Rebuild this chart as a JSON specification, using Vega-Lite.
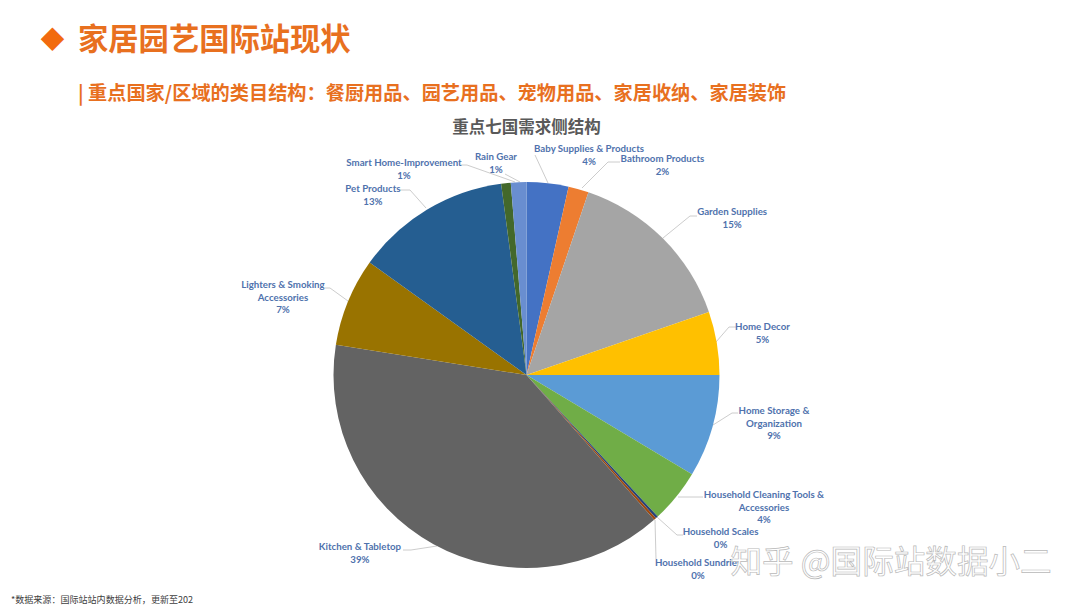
{
  "$schema": "https://vega.github.io/schema/vega-lite/v6.json",
  "width": 973,
  "height": 440,
  "autosize": {"type": "none"},
  "padding": {"left": 40, "top": 155, "right": 67, "bottom": 13},
  "background": "white",
  "view": {"stroke": null},
  "title": {
    "text": "家居园艺国际站现状",
    "subtitle": "| 重点国家/区域的类目结构：餐厨用品、园艺用品、宠物用品、家居收纳、家居装饰",
    "anchor": "start",
    "frame": "group",
    "dx": 38,
    "offset": -75,
    "font": "Noto Sans CJK SC",
    "fontSize": 30.3,
    "fontWeight": "bold",
    "color": "#E8701F",
    "subtitleFont": "Noto Sans CJK SC",
    "subtitleFontSize": 19.2,
    "subtitleFontWeight": "bold",
    "subtitleColor": "#E8701F",
    "subtitlePadding": 29
  },
  "datasets": {
    "slices": [
      {"order": 1, "name": "Baby Supplies & Products", "share": 3.5, "label": "Baby Supplies & Products\n4%"},
      {"order": 2, "name": "Bathroom Products", "share": 1.7, "label": "Bathroom Products\n2%"},
      {"order": 3, "name": "Garden Supplies", "share": 14.5, "label": "Garden Supplies\n15%"},
      {"order": 4, "name": "Home Decor", "share": 5.3, "label": "Home Decor\n5%"},
      {"order": 5, "name": "Home Storage & Organization", "share": 8.6, "label": "Home Storage &\nOrganization\n9%"},
      {"order": 6, "name": "Household Cleaning Tools & Accessories", "share": 4.5, "label": "Household Cleaning Tools &\nAccessories\n4%"},
      {"order": 7, "name": "Household Scales", "share": 0.2, "label": "Household Scales\n0%"},
      {"order": 8, "name": "Household Sundries", "share": 0.2, "label": "Household Sundries\n0%"},
      {"order": 9, "name": "Kitchen & Tabletop", "share": 39, "label": "Kitchen & Tabletop\n39%"},
      {"order": 10, "name": "Lighters & Smoking Accessories", "share": 7.4, "label": "Lighters & Smoking\nAccessories\n7%"},
      {"order": 11, "name": "Pet Products", "share": 13, "label": "Pet Products\n13%"},
      {"order": 12, "name": "Smart Home-Improvement", "share": 0.8, "label": "Smart Home-Improvement\n1%"},
      {"order": 13, "name": "Rain Gear", "share": 1.3, "label": "Rain Gear\n1%"}
    ],
    "leaders": [
      {"slice": "Baby", "node": 1}, {"slice": "Baby", "node": 2},
      {"slice": "Bathroom", "node": 3}, {"slice": "Bathroom", "node": 4}, {"slice": "Bathroom", "node": 5},
      {"slice": "Garden", "node": 6}, {"slice": "Garden", "node": 7}, {"slice": "Garden", "node": 8},
      {"slice": "Decor", "node": 9}, {"slice": "Decor", "node": 10}, {"slice": "Decor", "node": 11},
      {"slice": "Storage", "node": 12}, {"slice": "Storage", "node": 13}, {"slice": "Storage", "node": 14},
      {"slice": "Cleaning", "node": 15}, {"slice": "Cleaning", "node": 16},
      {"slice": "Scales", "node": 17}, {"slice": "Scales", "node": 18}, {"slice": "Scales", "node": 19},
      {"slice": "Sundries", "node": 20}, {"slice": "Sundries", "node": 21},
      {"slice": "Kitchen", "node": 22}, {"slice": "Kitchen", "node": 23}, {"slice": "Kitchen", "node": 24},
      {"slice": "Lighters", "node": 25}, {"slice": "Lighters", "node": 26}, {"slice": "Lighters", "node": 27},
      {"slice": "Pet", "node": 28}, {"slice": "Pet", "node": 29}, {"slice": "Pet", "node": 30},
      {"slice": "Smart", "node": 31}, {"slice": "Smart", "node": 32}, {"slice": "Smart", "node": 33},
      {"slice": "Rain", "node": 34}, {"slice": "Rain", "node": 35}
    ]
  },
  "data": {"name": "slices"},
  "resolve": {"scale": {"theta": "independent", "radius": "independent", "color": "independent"}},
  "layer": [
    {
      "data": {"name": "leaders"},
      "mark": {"type": "line", "color": "#BFBFBF", "strokeWidth": 0.8},
      "encoding": {
        "detail": {"field": "slice"},
        "order": {"field": "node"},
        "x": {
          "field": "node",
          "type": "quantitative",
          "axis": null,
          "scale": {
            "domain": [1,2,3,4,5,6,7,8,9,10,11,12,13,14,15,16,17,18,19,20,21,22,23,24,25,26,27,28,29,30,31,32,33,34,35],
            "range": [495,508,580,568,542,657,650,623,696,689,676,698,692,673,663,638,643,637,617,616,615,363,371,397,285,290,308,360,370,386,421,427,475,465,480]
          }
        },
        "y": {
          "field": "node",
          "type": "quantitative",
          "axis": null,
          "scale": {
            "domain": [1,2,3,4,5,6,7,8,9,10,11,12,13,14,15,16,17,18,19,20,21,22,23,24,25,26,27,28,29,30,31,32,33,34,35],
            "range": [0,28,7,7,33,61,61,83,172,172,187,258,258,270,342,342,380,380,362,404,365,395,395,391,133,133,146,35,35,53,10,10,27,19,27]
          }
        }
      }
    },
    {
      "mark": {"type": "arc", "outerRadius": 193},
      "encoding": {
        "theta": {"field": "share", "type": "quantitative", "stack": true},
        "order": {"field": "order"},
        "color": {
          "field": "name",
          "type": "nominal",
          "legend": null,
          "scale": {
            "domain": ["Baby Supplies & Products", "Bathroom Products", "Garden Supplies", "Home Decor", "Home Storage & Organization", "Household Cleaning Tools & Accessories", "Household Scales", "Household Sundries", "Kitchen & Tabletop", "Lighters & Smoking Accessories", "Pet Products", "Smart Home-Improvement", "Rain Gear"],
            "range": ["#4472C4", "#ED7D31", "#A5A5A5", "#FFC000", "#5B9BD5", "#70AD47", "#264478", "#9E480E", "#636363", "#997300", "#255E91", "#43682B", "#698ED0"]
          }
        }
      }
    },
    {
      "mark": {"type": "text", "font": "Lato", "fontSize": 9.7, "fontWeight": "bold", "color": "#4F72AD", "lineBreak": "\n", "lineHeight": 12.6, "align": "center", "baseline": "middle"},
      "encoding": {
        "text": {"field": "label"},
        "theta": {
          "field": "order",
          "type": "quantitative",
          "stack": false,
          "scale": {
            "domain": [1,2,3,4,5,6,7,8,9,10,11,12,13],
            "range": [0.270,0.562,0.901,1.370,1.715,2.039,2.251,2.402,3.911,5.066,5.593,5.759,6.144]
          }
        },
        "radius": {
          "field": "order",
          "type": "quantitative",
          "scale": {
            "type": "linear",
            "domain": [1,2,3,4,5,6,7,8,9,10,11,12,13],
            "range": [234.5,255.2,262.3,240.8,250.1,266.1,249.6,254.5,239.4,259.6,241.2,244.8,220.1]
          }
        }
      }
    },
    {
      "data": {"values": [{"note": "◆", "slot": 1}]},
      "mark": {"type": "text", "font": "Noto Sans CJK SC", "fontSize": 24, "color": "#F26A0F", "align": "center", "baseline": "middle"},
      "encoding": {
        "text": {"field": "note"},
        "theta": {"field": "slot", "type": "quantitative", "stack": false, "scale": {"domain": [1, 2], "range": [5.326, 5.326]}},
        "radius": {"field": "slot", "type": "quantitative", "scale": {"type": "linear", "domain": [1, 2], "range": [579.9, 579.9]}}
      }
    },
    {
      "data": {"values": [{"note": "重点七国需求侧结构", "slot": 1}]},
      "mark": {"type": "text", "font": "Noto Sans CJK SC", "fontSize": 16.5, "fontWeight": "bold", "color": "#595959", "align": "center", "baseline": "middle"},
      "encoding": {
        "text": {"field": "note"},
        "theta": {"field": "slot", "type": "quantitative", "stack": false, "scale": {"domain": [1, 2], "range": [0, 0]}},
        "radius": {"field": "slot", "type": "quantitative", "scale": {"type": "linear", "domain": [1, 2], "range": [247.5, 247.5]}}
      }
    },
    {
      "data": {"values": [{"note": "*数据来源：国际站站内数据分析，更新至202", "slot": 1}]},
      "mark": {"type": "text", "font": "Noto Sans CJK SC", "fontSize": 9.05, "color": "#404040", "align": "center", "baseline": "middle"},
      "encoding": {
        "text": {"field": "note"},
        "theta": {"field": "slot", "type": "quantitative", "stack": false, "scale": {"domain": [1, 2], "range": [4.225, 4.225]}},
        "radius": {"field": "slot", "type": "quantitative", "scale": {"type": "linear", "domain": [1, 2], "range": [480.4, 480.4]}}
      }
    },
    {
      "data": {"values": [{"note": "知乎 @国际站数据小二", "slot": 1}]},
      "mark": {"type": "text", "font": "Noto Sans CJK SC", "fontSize": 31.6, "fontWeight": "normal", "color": "#FFFFFF", "stroke": "#B9B9B9", "strokeWidth": 0.7, "align": "center", "baseline": "middle"},
      "encoding": {
        "text": {"field": "note"},
        "theta": {"field": "slot", "type": "quantitative", "stack": false, "scale": {"domain": [1, 2], "range": [2.049, 2.049]}},
        "radius": {"field": "slot", "type": "quantitative", "scale": {"type": "linear", "domain": [1, 2], "range": [410.6, 410.6]}}
      }
    }
  ]
}
